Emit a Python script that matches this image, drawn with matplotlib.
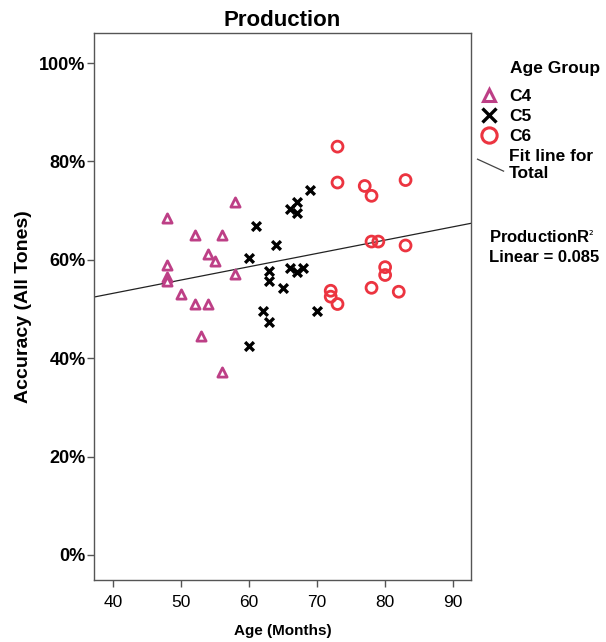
import numpy as np
import matplotlib
matplotlib.use("Agg")
import matplotlib.pyplot as plt
from matplotlib.lines import Line2D
from matplotlib.legend_handler import HandlerBase
from matplotlib.ticker import FuncFormatter

plt.rcParams['font.family'] = ['Liberation Sans', 'DejaVu Sans']

# data (age in months, accuracy in %)
c4_age = [48, 48, 48, 48, 50, 52, 52, 53, 54, 54, 55, 56, 56, 58, 58]
c4_acc = [68.5, 59.0, 56.4, 55.6, 53.0, 65.0, 51.0, 44.4, 61.2, 51.0, 59.8, 65.0, 37.1, 71.7, 57.1]

c5_age = [69, 67, 66, 67, 61, 64, 60, 63, 66, 67, 68, 63, 65, 62, 70, 63, 60]
c5_acc = [74.2, 71.7, 70.3, 69.6, 66.9, 62.9, 60.3, 57.8, 58.3, 57.6, 58.3, 55.6, 54.3, 49.6, 49.6, 47.4, 42.5]

c6_age = [73, 73, 77, 78, 83, 78, 79, 83, 80, 80, 78, 82, 72, 72, 73]
c6_acc = [83.0, 75.7, 75.0, 73.0, 76.2, 63.7, 63.7, 62.9, 58.5, 56.9, 54.3, 53.5, 53.7, 52.5, 51.0]

r2_text = "0.085"

col_c4 = '#BD3F86'
col_c5 = '#000000'
col_c6 = '#EC3440'


class HandlerDiag(HandlerBase):
    # SPSS style slanted line for the fit entry
    def create_artists(self, legend, orig_handle, xdescent, ydescent,
                       width, height, fontsize, trans):
        cy = height / 2 - ydescent
        ln = Line2D([-xdescent - 2.5, width + 5], [cy + 4.3, cy - 4.3],
                    color='#444444', lw=0.9)
        ln.set_transform(trans)
        return [ln]


fig = plt.figure(figsize=(6.06, 6.42), dpi=100)
ax = fig.add_axes([0.155, 0.0966, 0.622, 0.852])

ax.scatter(c4_age, c4_acc, marker='^', s=44, facecolors='white',
           edgecolors=col_c4, linewidths=2.0, zorder=3)
ax.scatter(c5_age, c5_acc, marker='x', s=40, color=col_c5,
           linewidths=2.4, zorder=3)
ax.scatter(c6_age, c6_acc, marker='o', s=62, facecolors='none',
           edgecolors=col_c6, linewidths=2.0, zorder=3)

# fit line for total
all_x = np.array(c4_age + c5_age + c6_age, dtype=float)
all_y = np.array(c4_acc + c5_acc + c6_acc, dtype=float)
slope, icpt = np.polyfit(all_x, all_y, 1)
xlim = (37.2, 92.6)
xx = np.array(xlim)
ax.plot(xx, icpt + slope * xx, color='#222222', lw=0.9, zorder=2)

ax.set_xlim(*xlim)
ax.set_ylim(-5.1, 106.1)
ax.set_xticks([40, 50, 60, 70, 80, 90])
ax.set_yticks([0, 20, 40, 60, 80, 100])
ax.yaxis.set_major_formatter(FuncFormatter(lambda v, p: f"{int(v)}%"))

for s in ax.spines.values():
    s.set_color('#555555')
    s.set_linewidth(1.0)
ax.tick_params(axis='both', colors='#555555', length=5, width=1.0,
               labelcolor='black')
ax.tick_params(axis='y', labelsize=13, pad=1.0)
ax.tick_params(axis='x', labelsize=12.5, pad=6)
for lb in ax.get_yticklabels():
    lb.set_fontweight('bold')

ax.set_title('Production', fontsize=16, fontweight='bold', pad=5)
ax.set_ylabel('Accuracy (All Tones)', fontsize=14, fontweight='bold', labelpad=5)
ax.set_xlabel('Age (Months)', fontsize=11, fontweight='bold', labelpad=10)

handles = [
    Line2D([], [], marker='^', ls='none', markersize=9, markerfacecolor='white',
           markeredgecolor=col_c4, markeredgewidth=2.2),
    Line2D([], [], marker='x', ls='none', markersize=10, color=col_c5,
           markeredgewidth=2.4),
    Line2D([], [], marker='o', ls='none', markersize=11, markerfacecolor='none',
           markeredgecolor=col_c6, markeredgewidth=2.2),
    Line2D([], []),
]
labels = ['C4', 'C5', 'C6', 'Fit line for\nTotal']
leg = fig.legend(handles, labels, loc='upper left', bbox_to_anchor=(481 / 606, 1 - 89 / 642),
                 frameon=False, prop={'size': 12.5, 'weight': 'bold'},
                 handlelength=0.9, handletextpad=0.7, labelspacing=0.28,
                 borderaxespad=0, borderpad=0,
                 handler_map={handles[3]: HandlerDiag()})

fig.text(510 / 606, 1 - 68 / 642, 'Age Group', fontsize=12.5, fontweight='bold',
         va='center', ha='left')
fig.text(489 / 606, 1 - 237 / 642, 'ProductionR$^{\u2082}$', fontsize=12, fontweight='bold',
         va='center', ha='left')
fig.text(489 / 606, 1 - 258 / 642, 'Linear = ' + r2_text, fontsize=12, fontweight='bold',
         va='center', ha='left')

fig.savefig('out.png', dpi=100)
